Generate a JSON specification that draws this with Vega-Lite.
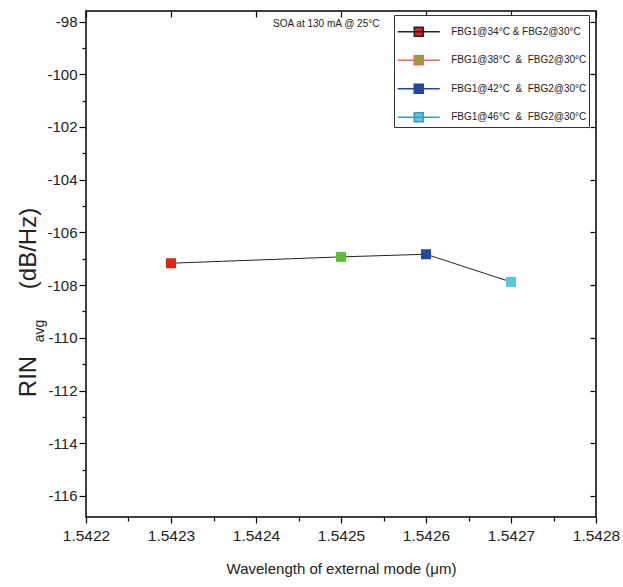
{
  "$schema": "https://vega.github.io/schema/vega-lite/v6.json",
  "width": 510,
  "height": 506,
  "autosize": {"type": "none"},
  "padding": {"left": 86, "top": 11, "right": 27, "bottom": 70},
  "background": "white",
  "config": {
    "view": {"stroke": "black", "strokeWidth": 1.5},
    "font": "Liberation Sans",
    "axis": {"domain": false, "grid": false, "tickColor": "black", "tickWidth": 1.2, "labelColor": "#222", "labelFont": "Liberation Sans", "titleFont": "Liberation Sans", "titleFontWeight": "normal", "titleColor": "#222", "labelFlush": false, "labelOverlap": false}
  },
  "datasets": {
    "pts": [
      {"wl": 1.5423, "rin": -107.17, "series": "FBG1@34°C & FBG2@30°C"},
      {"wl": 1.5425, "rin": -106.93, "series": "FBG1@38°C\u00a0 &\u00a0 FBG2@30°C"},
      {"wl": 1.5426, "rin": -106.83, "series": "FBG1@42°C\u00a0 &\u00a0 FBG2@30°C"},
      {"wl": 1.5427, "rin": -107.88, "series": "FBG1@46°C\u00a0 &\u00a0 FBG2@30°C"}
    ],
    "note": [{"wl": 1.54242, "rin": -98.1, "label": "SOA at 130 mA @ 25°C"}],
    "sub": [{"wl": 1.5421459, "rin": -109.74, "label": "avg"}]
  },
  "layer": [
    {
      "data": {"name": "pts"},
      "mark": {"type": "line", "color": "#222", "strokeWidth": 1},
      "encoding": {
        "x": {"field": "wl", "type": "quantitative", "scale": {"domain": [1.5422, 1.5428], "nice": false, "zero": false},
          "axis": {"orient": "bottom", "values": [1.5422, 1.5423, 1.5424, 1.5425, 1.5426, 1.5427, 1.5428], "format": ".4f", "labelFontSize": 15.5, "tickSize": 6, "labelPadding": 5, "title": "Wavelength of external mode (μm)", "titleFontSize": 15, "titlePadding": 18}},
        "y": {"field": "rin", "type": "quantitative", "scale": {"domain": [-116.8, -97.6], "nice": false, "zero": false},
          "axis": {"orient": "left", "values": [-116, -114, -112, -110, -108, -106, -104, -102, -100, -98], "labelFontSize": 15, "tickSize": 7, "labelPadding": 2, "labelExpr": "replace(datum.label, '−', '-')", "title": "RIN\u00a0\u00a0\u00a0\u00a0\u00a0\u00a0\u00a0\u00a0\u00a0\u00a0(dB/Hz)", "titleFontSize": 24, "titlePadding": 6, "titleY": 291}}
      }
    },
    {
      "data": {"name": "pts"},
      "mark": {"type": "point", "shape": "square", "filled": true, "size": 100, "opacity": 1, "strokeWidth": 0},
      "encoding": {
        "x": {"field": "wl", "type": "quantitative",
          "axis": {"orient": "bottom", "values": [1.54225, 1.54235, 1.54245, 1.54255, 1.54265, 1.54275], "labels": false, "tickSize": 4, "title": null}},
        "y": {"field": "rin", "type": "quantitative",
          "axis": {"orient": "left", "values": [-115, -113, -111, -109, -107, -105, -103, -101, -99], "labels": false, "tickSize": 4, "title": null}},
        "fill": {"field": "series", "type": "nominal",
          "scale": {"domain": ["FBG1@34°C & FBG2@30°C", "FBG1@38°C\u00a0 &\u00a0 FBG2@30°C", "FBG1@42°C\u00a0 &\u00a0 FBG2@30°C", "FBG1@46°C\u00a0 &\u00a0 FBG2@30°C"], "range": ["#e8201c", "#5dbd3b", "#2447a0", "#5bc8de"]},
          "legend": {"orient": "none", "legendX": 308, "legendY": 4, "title": null, "symbolType": "M-1.556,0H1.556M-0.333,-0.333H0.333V0.333H-0.333Z", "symbolSize": 729, "labelFontSize": 10, "labelFont": "Liberation Sans", "labelColor": "#222", "padding": 2.25, "rowPadding": 6.5, "symbolOffset": 8, "labelOffset": 18, "strokeColor": "#333", "fillColor": "white", "labelLimit": 0,
            "encode": {"symbols": {"update": {"strokeWidth": {"value": 1.2}, "opacity": {"value": 1}}}}}},
        "stroke": {"field": "series", "type": "nominal",
          "scale": {"domain": ["FBG1@34°C & FBG2@30°C", "FBG1@38°C\u00a0 &\u00a0 FBG2@30°C", "FBG1@42°C\u00a0 &\u00a0 FBG2@30°C", "FBG1@46°C\u00a0 &\u00a0 FBG2@30°C"], "range": ["#222222", "#e07050", "#2447a0", "#3a9db0"]},
          "legend": {"orient": "none", "legendX": 308, "legendY": 4, "title": null, "symbolType": "M-1.556,0H1.556M-0.333,-0.333H0.333V0.333H-0.333Z", "symbolSize": 729, "labelFontSize": 10, "labelFont": "Liberation Sans", "labelColor": "#222", "padding": 2.25, "rowPadding": 6.5, "symbolOffset": 8, "labelOffset": 18, "strokeColor": "#333", "fillColor": "white", "labelLimit": 0,
            "encode": {"symbols": {"update": {"strokeWidth": {"value": 1.2}, "opacity": {"value": 1}}}}}}
      }
    },
    {
      "data": {"name": "note"},
      "mark": {"type": "text", "align": "left", "baseline": "middle", "fontSize": 10, "font": "Liberation Sans", "color": "#222"},
      "encoding": {
        "x": {"field": "wl", "type": "quantitative",
          "axis": {"orient": "top", "values": [1.5422, 1.5423, 1.5424, 1.5425, 1.5426, 1.5427, 1.5428], "labels": false, "tickSize": -6, "title": null}},
        "y": {"field": "rin", "type": "quantitative",
          "axis": {"orient": "right", "values": [-116, -114, -112, -110, -108, -106, -104, -102, -100, -98], "labels": false, "tickSize": -6, "title": null}},
        "text": {"field": "label"}
      }
    },
    {
      "data": {"name": "sub"},
      "mark": {"type": "text", "align": "center", "baseline": "middle", "fontSize": 14, "font": "Liberation Sans", "angle": 270, "color": "#222"},
      "encoding": {
        "x": {"field": "wl", "type": "quantitative", "axis": null},
        "y": {"field": "rin", "type": "quantitative", "axis": null},
        "text": {"field": "label"}
      }
    }
  ],
  "resolve": {"axis": {"x": "independent", "y": "independent"}}
}
